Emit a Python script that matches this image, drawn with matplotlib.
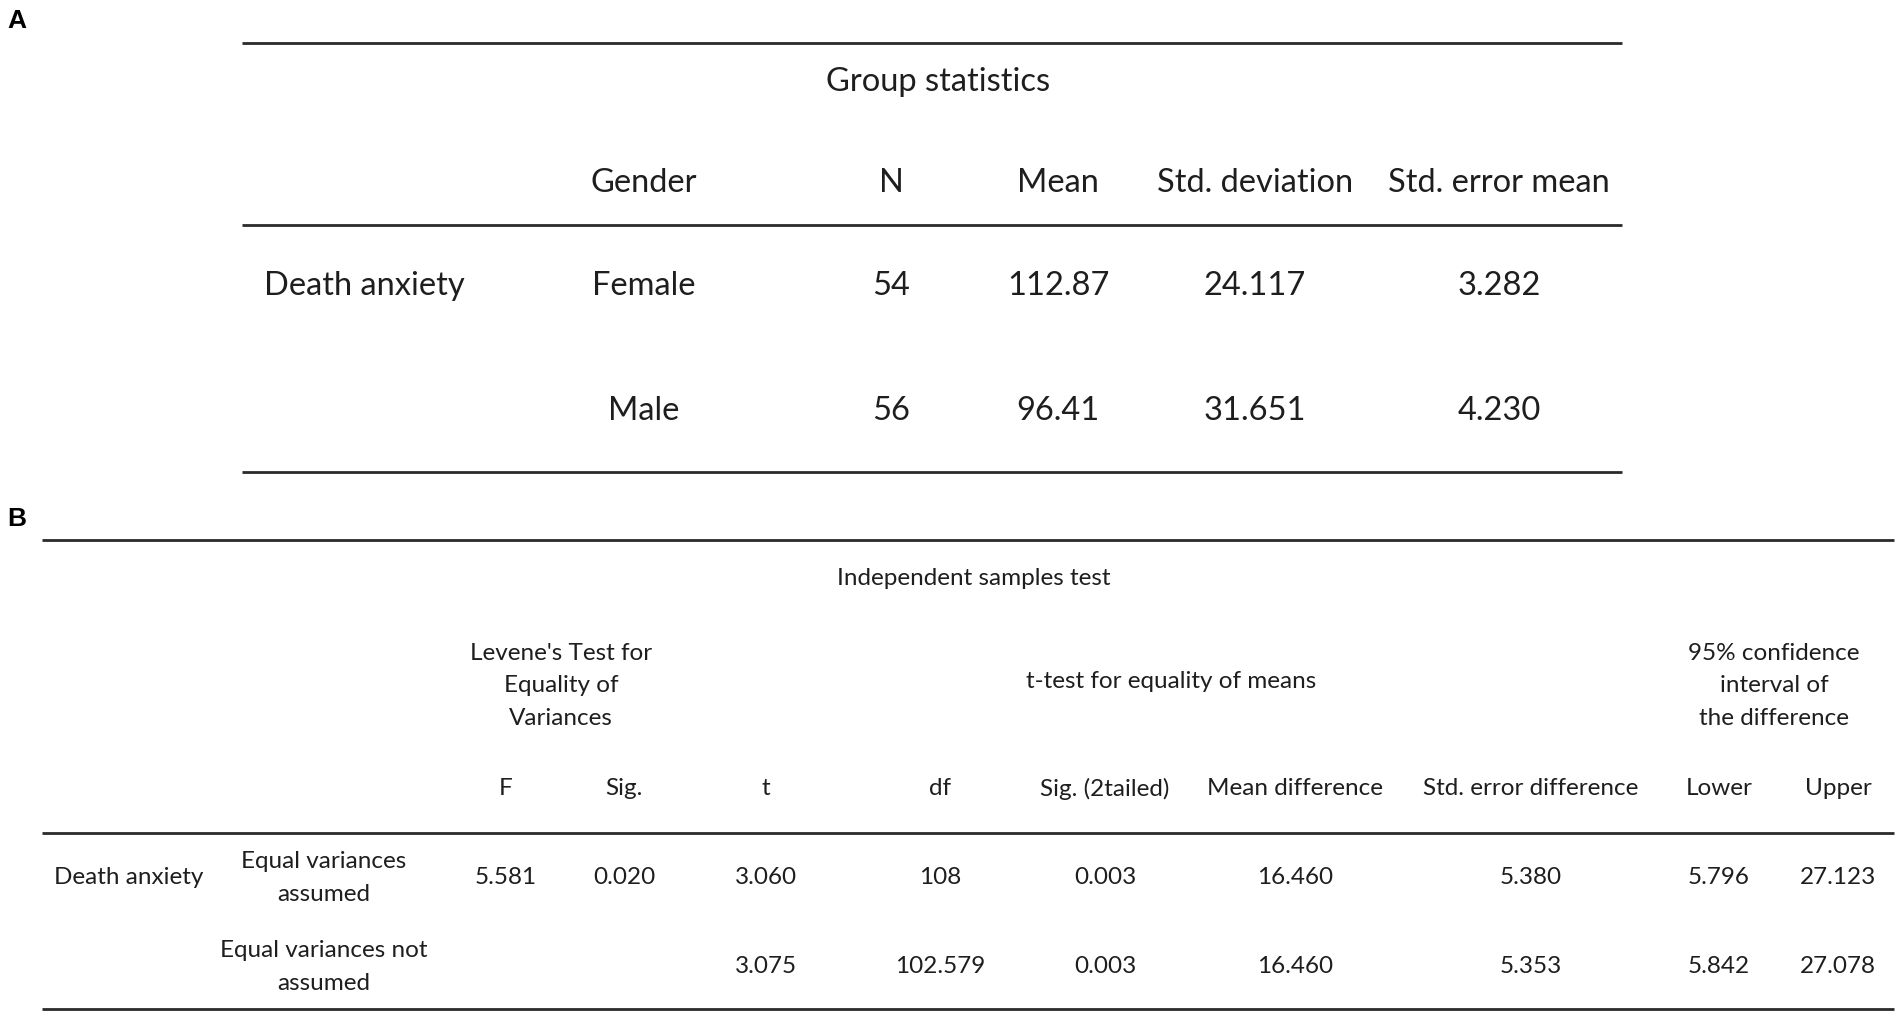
import matplotlib
matplotlib.use("Agg")
from matplotlib import pyplot as plt

plt.rcParams['font.family'] = ['Lato', 'DejaVu Sans']

# ---- data: panel A (group statistics)
group_title = "Group statistics"
group_headers = ["Gender", "N", "Mean", "Std. deviation", "Std. error mean"]
group_variable = "Death anxiety"
genders = ["Female", "Male"]
n_values = ["54", "56"]
mean_values = ["112.87", "96.41"]
std_dev_values = ["24.117", "31.651"]
std_err_values = ["3.282", "4.230"]

# ---- data: panel B (independent samples test)
test_title = "Independent samples test"
levene_header = "Levene's Test for\nEquality of\nVariances"
ttest_header = "t-test for equality of means"
ci_header = "95% confidence\ninterval of\nthe difference"
test_headers = ["F", "Sig.", "t", "df", "Sig. (2tailed)", "Mean difference",
                "Std. error difference", "Lower", "Upper"]
test_rows = ["Equal variances\nassumed", "Equal variances not\nassumed"]
levene_f = ["5.581", ""]
levene_sig = ["0.020", ""]
t_values = ["3.060", "3.075"]
df_values = ["108", "102.579"]
sig_2tailed = ["0.003", "0.003"]
mean_diff = ["16.460", "16.460"]
std_err_diff = ["5.380", "5.353"]
ci_lower = ["5.796", "5.842"]
ci_upper = ["27.123", "27.078"]

W, H = 1901, 1020
fig = plt.figure(figsize=(W / 100, H / 100), dpi=100)
ax = fig.add_axes([0, 0, 1, 1])
ax.set_xlim(0, W)
ax.set_ylim(H, 0)
ax.axis('off')

txt = '#1e1e1e'
line_col = '#2a2a2a'


def hline(y, x0, x1):
    ax.plot([x0, x1], [y, y], color=line_col, lw=2.0, solid_capstyle='butt')


# ---------------- panel A
fa = 23.5
ax.text(7, 21, "A", fontsize=19, fontweight='bold', family='Liberation Sans',
        ha='left', va='center', color='black')
hline(44, 242, 1622)
ax.text(938, 82, group_title, fontsize=fa, ha='center', va='center', color=txt)

a_cols = [644, 891, 1058, 1255, 1499]
for x, h in zip(a_cols, group_headers):
    ax.text(x, 183, h, fontsize=fa, ha='center', va='center', color=txt)
hline(226, 242, 1622)

a_rows = [286, 411]
ax.text(264, a_rows[0], group_variable, fontsize=fa, ha='left', va='center', color=txt)
for i, y in enumerate(a_rows):
    vals = [genders[i], n_values[i], mean_values[i], std_dev_values[i], std_err_values[i]]
    for x, v in zip(a_cols, vals):
        ax.text(x, y, v, fontsize=fa, ha='center', va='center', color=txt)
hline(473, 242, 1622)

# ---------------- panel B
ax.text(7, 519, "B", fontsize=19, fontweight='bold', family='Liberation Sans',
        ha='left', va='center', color='black')
hline(541, 42, 1894)
fs = 17.5
ls = 1.7
ax.text(974, 579, test_title, fontsize=fs, ha='center', va='center', color=txt)
ax.text(561, 686, levene_header, fontsize=fs, ha='center', va='center',
        linespacing=ls, color=txt)
ax.text(1171, 682, ttest_header, fontsize=fs, ha='center', va='center', color=txt)
ax.text(1774, 686, ci_header, fontsize=fs, ha='center', va='center',
        linespacing=ls, color=txt)

b_cols = [506, 624, 766, 940, 1105, 1295, 1531, 1719, 1838]
for x, h in zip(b_cols, test_headers):
    ax.text(x, 789, h, fontsize=fs, ha='center', va='center', color=txt)
hline(834, 42, 1894)

b_rows = [878, 967]
ax.text(129, b_rows[0], group_variable, fontsize=fs, ha='center', va='center', color=txt)
for i, y in enumerate(b_rows):
    ax.text(324, y, test_rows[i], fontsize=fs, ha='center', va='center',
            linespacing=ls, color=txt)
    vals = [levene_f[i], levene_sig[i], t_values[i], df_values[i], sig_2tailed[i],
            mean_diff[i], std_err_diff[i], ci_lower[i], ci_upper[i]]
    for x, v in zip(b_cols, vals):
        if v:
            ax.text(x, y, v, fontsize=fs, ha='center', va='center', color=txt)
hline(1010, 42, 1894)

fig.savefig("out.png", dpi=100, facecolor='white')
